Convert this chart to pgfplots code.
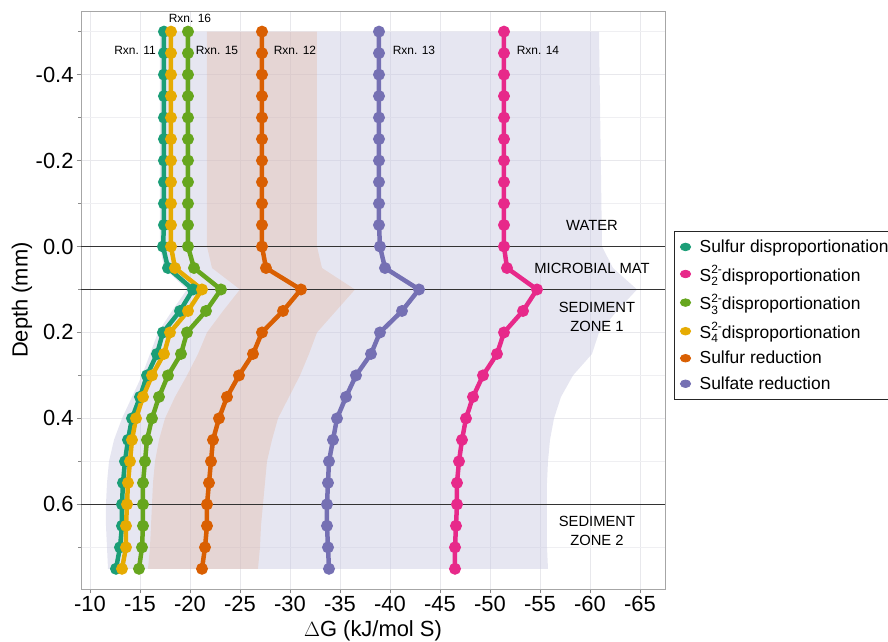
\documentclass[border=0pt]{standalone}
\usepackage{fontspec}
\setmainfont{Liberation Sans}
\usepackage{pgfplots}
\usepackage{pgfplotstable}
\pgfplotsset{compat=1.18}

\definecolor{cTeal}{HTML}{1B9E77}
\definecolor{cOrange}{HTML}{D95F02}
\definecolor{cPurple}{HTML}{7570B3}
\definecolor{cPink}{HTML}{E7298A}
\definecolor{cGreen}{HTML}{66A61E}
\definecolor{cYellow}{HTML}{E6AB02}
\definecolor{lav}{RGB}{200,200,225}
\definecolor{brn}{RGB}{227,177,151}
\definecolor{gridc}{RGB}{232,232,236}

% S_n^{2-} in the text font
\newcommand\Sion[1]{S\rlap{\raisebox{-0.5ex}{\fontsize{12}{12}\selectfont #1}}\raisebox{0.8ex}{\fontsize{12}{12}\selectfont 2-}}

% depth (mm) and Delta G (kJ/mol S) per reaction
\pgfplotstableread{
d     teal  yellow green orange purple pink
-0.50 -17.4 -18.1 -19.8 -27.2 -38.9 -51.4
-0.45 -17.4 -18.1 -19.8 -27.2 -38.9 -51.4
-0.40 -17.4 -18.1 -19.8 -27.2 -38.9 -51.4
-0.35 -17.4 -18.1 -19.8 -27.2 -38.9 -51.4
-0.30 -17.4 -18.1 -19.8 -27.2 -38.9 -51.4
-0.25 -17.4 -18.1 -19.8 -27.2 -38.9 -51.4
-0.20 -17.4 -18.1 -19.8 -27.2 -38.9 -51.4
-0.15 -17.4 -18.1 -19.8 -27.2 -38.9 -51.4
-0.10 -17.4 -18.1 -19.8 -27.2 -38.9 -51.4
-0.05 -17.4 -18.1 -19.8 -27.2 -38.9 -51.4
0.00  -17.3 -18.1 -19.8 -27.2 -39.0 -51.4
0.05  -17.8 -18.5 -20.4 -27.6 -39.5 -51.7
0.10  -20.3 -21.2 -23.1 -31.1 -42.9 -54.7
0.15  -19.0 -19.8 -21.6 -29.3 -41.2 -53.3
0.20  -17.3 -18.0 -19.7 -27.2 -39.0 -51.4
0.25  -16.7 -17.4 -19.1 -26.3 -38.1 -50.7
0.30  -15.7 -16.2 -17.8 -24.9 -36.6 -49.3
0.35  -15.0 -15.3 -16.9 -23.7 -35.6 -48.3
0.40  -14.2 -14.6 -16.2 -22.9 -34.7 -47.6
0.45  -13.8 -14.2 -15.7 -22.3 -34.3 -47.2
0.50  -13.5 -14.0 -15.5 -22.1 -33.9 -46.9
0.55  -13.3 -13.8 -15.3 -21.9 -33.8 -46.7
0.60  -13.2 -13.7 -15.3 -21.7 -33.7 -46.7
0.65  -13.2 -13.6 -15.3 -21.7 -33.7 -46.6
0.70  -13.0 -13.6 -15.2 -21.5 -33.8 -46.5
0.75  -12.6 -13.2 -14.9 -21.2 -33.9 -46.5
}\lines

\begin{document}
\begin{tikzpicture}
\begin{axis}[
    name=ax,
    scale only axis,
    width=584bp, height=578bp,
    x dir=reverse, y dir=reverse,
    xmin=-67.5, xmax=-9.1,
    ymin=-0.548, ymax=0.797,
    xtick={-10,-15,...,-65},
    xticklabels={-10,-15,-20,-25,-30,-35,-40,-45,-50,-55,-60,-65},
    ytick={-0.4,-0.2,0,0.2,0.4,0.6},
    yticklabels={-0.4,-0.2,0.0,0.2,0.4,0.6},
    minor ytick={-0.5,-0.3,-0.1,0.1,0.3,0.5,0.7},
    xmajorgrids, ymajorgrids, yminorgrids,
    major grid style={gridc, line width=0.9bp},
    minor grid style={gridc!70, line width=0.6bp},
    axis line style={draw=black!35, line width=0.8bp},
    tick style={draw=black!45, line width=0.8bp},
    tick align=outside, major tick length=4bp,
    xtick pos=bottom, ytick pos=left,
    ticklabel style={font=\fontsize{22}{26}\selectfont},
    xlabel={$\Delta$G (kJ/mol S)},
    ylabel={Depth (mm)},
    label style={font=\fontsize{22}{26}\selectfont},
    xlabel style={at={(axis description cs:0.5,-0.0727)}, anchor=center},
    ylabel style={at={(axis description cs:-0.101,0.5)}, anchor=center},
    legend cell align=left,
    legend style={at={(1.0154,0.6194)}, anchor=north west,
        draw=black!85, line width=0.8bp, inner xsep=6bp, inner ysep=6.5bp,
        row sep=7.4bp,
        /tikz/every odd column/.append style={column sep=7bp},
        font=\fontsize{17.5}{21}\selectfont},
]
% uncertainty bands (outline: left edge downwards, right edge upwards)
\addplot[fill=lav, fill opacity=0.45, draw=none, forget plot] coordinates {
(-17.0,-0.5) (-17.0,0) (-17.4,0.05) (-19.7,0.1) (-18.2,0.15) (-16.8,0.2)
(-16.0,0.25) (-15.2,0.3) (-14.2,0.35) (-13.2,0.4) (-12.4,0.45) (-11.9,0.5)
(-11.7,0.55) (-11.6,0.6) (-11.6,0.65) (-11.7,0.7) (-11.8,0.75)
(-55.8,0.75) (-55.7,0.7) (-55.7,0.65) (-55.7,0.6) (-55.7,0.55) (-55.8,0.5)
(-56.0,0.45) (-56.4,0.4) (-57.1,0.35) (-58.3,0.3) (-60.2,0.25) (-60.9,0.2)
(-62.7,0.15) (-64.7,0.1) (-62.3,0.05) (-61.2,0) (-60.9,-0.5)};
\addplot[fill=brn, fill opacity=0.32, draw=none, forget plot] coordinates {
(-21.7,-0.5) (-21.7,0) (-22.2,0.05) (-25.0,0.1) (-23.3,0.15) (-21.7,0.2)
(-20.8,0.25) (-19.7,0.3) (-18.5,0.35) (-17.5,0.4) (-16.9,0.45) (-16.5,0.5)
(-16.3,0.55) (-16.2,0.6) (-16.1,0.65) (-16.0,0.7) (-15.8,0.75)
(-26.8,0.75) (-27.0,0.7) (-27.1,0.65) (-27.3,0.6) (-27.5,0.55) (-27.7,0.5)
(-28.2,0.45) (-28.8,0.4) (-29.9,0.35) (-31.0,0.3) (-31.9,0.25) (-32.7,0.2)
(-34.6,0.15) (-36.5,0.1) (-33.2,0.05) (-32.7,0) (-32.7,-0.5)};

% profiles
\pgfplotsset{prof/.style={line width=4.5bp, mark=*, mark size=3.6bp, forget plot}}
\addplot[prof, cTeal] table[x=teal, y=d] {\lines};
\addplot[prof, cPink] table[x=pink, y=d] {\lines};
\addplot[prof, cGreen] table[x=green, y=d] {\lines};
\addplot[prof, cYellow] table[x=yellow, y=d] {\lines};
\addplot[prof, cOrange] table[x=orange, y=d] {\lines};
\addplot[prof, cPurple] table[x=purple, y=d] {\lines};

% legend
\pgfplotsset{key/.style={only marks, mark=*, mark size=3.8bp, mark options={xscale=1.35}}}
\addlegendimage{key, cTeal}
\addlegendentry{Sulfur disproportionation}
\addlegendimage{key, cPink}
\addlegendentry{\Sion{2}disproportionation}
\addlegendimage{key, cGreen}
\addlegendentry{\Sion{3}disproportionation}
\addlegendimage{key, cYellow}
\addlegendentry{\Sion{4}disproportionation}
\addlegendimage{key, cOrange}
\addlegendentry{Sulfur reduction}
\addlegendimage{key, cPurple}
\addlegendentry{Sulfate reduction}

% zone boundaries
\addplot[black!80, line width=0.9bp, forget plot] coordinates {(-9.1,0) (-67.5,0)};
\addplot[black!80, line width=0.9bp, forget plot] coordinates {(-9.1,0.1) (-67.5,0.1)};
\addplot[black!80, line width=0.9bp, forget plot] coordinates {(-9.1,0.6) (-67.5,0.6)};

% labels
\begin{scope}[font=\fontsize{12}{14}\selectfont]
\node at (axis cs:-20.0,-0.531) {Rxn. 16};
\node at (axis cs:-14.5,-0.457) {Rxn. 11};
\node at (axis cs:-22.7,-0.457) {Rxn. 15};
\node at (axis cs:-30.5,-0.457) {Rxn. 12};
\node at (axis cs:-42.4,-0.457) {Rxn. 13};
\node at (axis cs:-54.8,-0.457) {Rxn. 14};
\end{scope}
\begin{scope}[font=\fontsize{14.8}{18.3}\selectfont, align=center]
\node at (axis cs:-60.2,-0.048) {WATER};
\node at (axis cs:-60.2,0.052) {MICROBIAL MAT};
\node at (axis cs:-60.7,0.164) {SEDIMENT\\ZONE 1};
\node at (axis cs:-60.7,0.662) {SEDIMENT\\ZONE 2};
\end{scope}
\end{axis}
\pgfresetboundingbox
\path[use as bounding box] ([xshift=-81bp,yshift=-53bp]ax.south west) rectangle ([xshift=223bp,yshift=11bp]ax.north east);
\end{tikzpicture}
\end{document}
